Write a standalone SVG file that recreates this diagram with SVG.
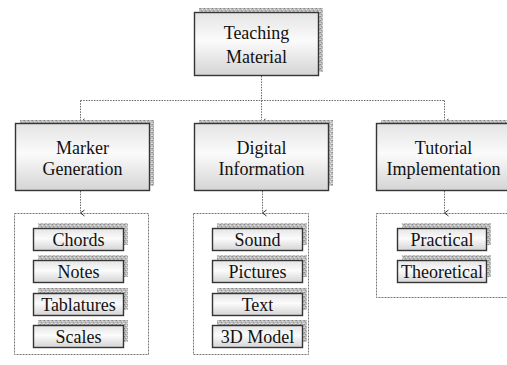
<svg xmlns="http://www.w3.org/2000/svg" width="507" height="365" viewBox="0 0 507 365">
  <defs>
    <linearGradient id="boxFill" x1="0" y1="0" x2="0" y2="1">
      <stop offset="0" stop-color="#e4e4e4"/>
      <stop offset="0.45" stop-color="#fbfbfb"/>
      <stop offset="1" stop-color="#d4d4d4"/>
    </linearGradient>
    <!-- speckled grey texture used for the drop shadows -->
    <pattern id="grain" width="4" height="4" patternUnits="userSpaceOnUse">
      <rect width="4" height="4" fill="#bdbdbd"/>
      <rect x="0" y="0" width="1" height="1" fill="#8a8a8a"/>
      <rect x="2" y="1" width="1" height="1" fill="#e2e2e2"/>
      <rect x="1" y="2" width="1" height="1" fill="#959595"/>
      <rect x="3" y="3" width="1" height="1" fill="#e8e8e8"/>
      <rect x="3" y="0" width="1" height="1" fill="#a4a4a4"/>
      <rect x="0" y="3" width="1" height="1" fill="#d6d6d6"/>
    </pattern>
    <marker id="arrow" viewBox="0 0 8 8" refX="4" refY="7" markerWidth="8" markerHeight="8" markerUnits="userSpaceOnUse" orient="auto-start-reverse">
      <path d="M1,3 L4,7 L7,3" fill="none" stroke="#333" stroke-width="1"/>
    </marker>
  </defs>
  <style>
    .shadow { fill: url(#grain); }
    .box { fill: url(#boxFill); stroke: #353535; stroke-width: 1.4; }
    .frame { fill: #ffffff; stroke: #777; stroke-width: 1; stroke-dasharray: 2 1; }
    .link { fill: none; stroke: #666; stroke-width: 1; stroke-dasharray: 1.5 1.2; }
    .big { font-family: "Liberation Serif", "Times New Roman", serif; font-size: 18px; fill: #111; text-anchor: middle; }
    .item { font-family: "Liberation Serif", "Times New Roman", serif; font-size: 18px; fill: #111; text-anchor: middle; }
  </style>

  <rect width="507" height="365" fill="#ffffff"/>

  <!-- list frames -->
  <g id="frame-marker"><rect class="frame" x="14.5" y="213.5" width="134" height="141"/></g>
  <g id="frame-digital"><rect class="frame" x="193.5" y="213.5" width="115" height="141"/></g>
  <g id="frame-tutorial"><rect class="frame" x="376.5" y="213.5" width="140" height="84"/></g>

  <!-- connectors -->
  <g id="connectors">
    <path class="link" d="M261.5,76 V100.5"/>
    <path class="link" d="M80.5,100.5 H444.5"/>
    <path class="link" d="M80.5,100.5 V122" marker-end="url(#arrow)"/>
    <path class="link" d="M261.5,100.5 V122" marker-end="url(#arrow)"/>
    <path class="link" d="M444.5,100.5 V122" marker-end="url(#arrow)"/>
    <path class="link" d="M80.5,191 V213" marker-end="url(#arrow)"/>
    <path class="link" d="M262.5,191 V213" marker-end="url(#arrow)"/>
    <path class="link" d="M444.5,191 V213" marker-end="url(#arrow)"/>
  </g>

  <!-- top level -->
  <g id="teaching-material">
    <rect class="shadow" x="199" y="8" width="124" height="64"/>
    <rect class="box" x="194.5" y="12.5" width="124" height="63"/>
    <text class="big" x="256.5" y="39">Teaching</text>
    <text class="big" x="256.5" y="63">Material</text>
  </g>

  <!-- second level -->
  <g id="marker-generation">
    <rect class="shadow" x="20" y="120" width="134" height="66"/>
    <rect class="box" x="15.5" y="123.5" width="134" height="67"/>
    <text class="big" x="82.5" y="154">Marker</text>
    <text class="big" x="82.5" y="175">Generation</text>
  </g>
  <g id="digital-information">
    <rect class="shadow" x="199" y="120" width="134" height="66"/>
    <rect class="box" x="194.5" y="123.5" width="134" height="67"/>
    <text class="big" x="261.5" y="154">Digital</text>
    <text class="big" x="261.5" y="175">Information</text>
  </g>
  <g id="tutorial-implementation">
    <rect class="shadow" x="381" y="120" width="134" height="66"/>
    <rect class="box" x="376.5" y="123.5" width="134" height="67"/>
    <text class="big" x="443.5" y="154">Tutorial</text>
    <text class="big" x="443.5" y="175">Implementation</text>
  </g>

  <!-- items: Marker Generation -->
  <g id="item-chords">
    <rect class="shadow" x="38" y="223" width="90" height="22"/>
    <rect class="box" x="33.5" y="228.5" width="90" height="22"/>
    <text class="item" x="78.5" y="245.5">Chords</text>
  </g>
  <g id="item-notes">
    <rect class="shadow" x="38" y="255" width="90" height="22"/>
    <rect class="box" x="33.5" y="260.5" width="90" height="22"/>
    <text class="item" x="78.5" y="277.5">Notes</text>
  </g>
  <g id="item-tablatures">
    <rect class="shadow" x="38" y="288" width="90" height="22"/>
    <rect class="box" x="33.5" y="293.5" width="90" height="22"/>
    <text class="item" x="78.5" y="310.5">Tablatures</text>
  </g>
  <g id="item-scales">
    <rect class="shadow" x="38" y="320" width="90" height="22"/>
    <rect class="box" x="33.5" y="325.5" width="90" height="22"/>
    <text class="item" x="78.5" y="342.5">Scales</text>
  </g>

  <!-- items: Digital Information -->
  <g id="item-sound">
    <rect class="shadow" x="217" y="223" width="90" height="22"/>
    <rect class="box" x="212.5" y="228.5" width="90" height="22"/>
    <text class="item" x="257.5" y="245.5">Sound</text>
  </g>
  <g id="item-pictures">
    <rect class="shadow" x="217" y="255" width="90" height="22"/>
    <rect class="box" x="212.5" y="260.5" width="90" height="22"/>
    <text class="item" x="257.5" y="277.5">Pictures</text>
  </g>
  <g id="item-text">
    <rect class="shadow" x="217" y="288" width="90" height="22"/>
    <rect class="box" x="212.5" y="293.5" width="90" height="22"/>
    <text class="item" x="257.5" y="310.5">Text</text>
  </g>
  <g id="item-3d-model">
    <rect class="shadow" x="217" y="320" width="90" height="22"/>
    <rect class="box" x="212.5" y="325.5" width="90" height="22"/>
    <text class="item" x="257.5" y="342.5">3D Model</text>
  </g>

  <!-- items: Tutorial Implementation -->
  <g id="item-practical">
    <rect class="shadow" x="402" y="223" width="89" height="22"/>
    <rect class="box" x="397.5" y="228.5" width="89" height="22"/>
    <text class="item" x="442" y="245.5">Practical</text>
  </g>
  <g id="item-theoretical">
    <rect class="shadow" x="402" y="255" width="89" height="22"/>
    <rect class="box" x="397.5" y="260.5" width="89" height="22"/>
    <text class="item" x="442" y="277.5">Theoretical</text>
  </g>
</svg>
